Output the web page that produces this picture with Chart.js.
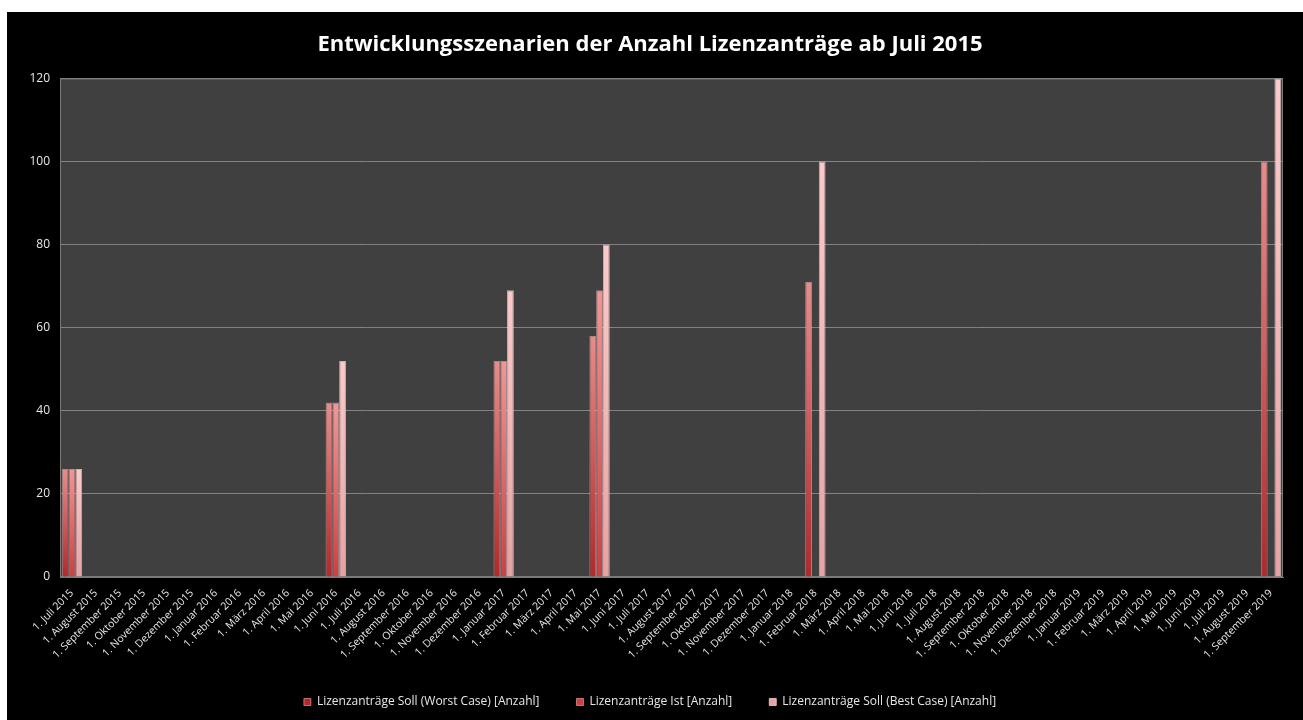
<!DOCTYPE html>
<html>
<head>
<meta charset="utf-8">
<script src="https://cdn.jsdelivr.net/npm/chart.js@4/dist/chart.umd.min.js"></script>
<style>
  html, body { margin: 0; padding: 0; background: #fff; }
  #wrap { position: absolute; left: 7px; top: 12px; width: 1296px; height: 708px; background: #000; }
</style>
</head>
<body>
<div id="wrap"><canvas id="chart" width="1296" height="708"></canvas></div>
<script>
var months = [
  '1. Juli 2015', '1. August 2015', '1. September 2015', '1. Oktober 2015', '1. November 2015', '1. Dezember 2015',
  '1. Januar 2016', '1. Februar 2016', '1. März 2016', '1. April 2016', '1. Mai 2016', '1. Juni 2016',
  '1. Juli 2016', '1. August 2016', '1. September 2016', '1. Oktober 2016', '1. November 2016', '1. Dezember 2016',
  '1. Januar 2017', '1. Februar 2017', '1. März 2017', '1. April 2017', '1. Mai 2017', '1. Juni 2017',
  '1. Juli 2017', '1. August 2017', '1. September 2017', '1. Oktober 2017', '1. November 2017', '1. Dezember 2017',
  '1. Januar 2018', '1. Februar 2018', '1. März 2018', '1. April 2018', '1. Mai 2018', '1. Juni 2018',
  '1. Juli 2018', '1. August 2018', '1. September 2018', '1. Oktober 2018', '1. November 2018', '1. Dezember 2018',
  '1. Januar 2019', '1. Februar 2019', '1. März 2019', '1. April 2019', '1. Mai 2019', '1. Juni 2019',
  '1. Juli 2019', '1. August 2019', '1. September 2019'
];

// Soll (Worst Case)
var worstCase = [
  26, null, null, null, null, null,
  null, null, null, null, null, 42,
  null, null, null, null, null, null,
  52, null, null, null, 58, null,
  null, null, null, null, null, null,
  null, 71, null, null, null, null,
  null, null, null, null, null, null,
  null, null, null, null, null, null,
  null, null, 100
];

// Ist
var ist = [
  26, null, null, null, null, null,
  null, null, null, null, null, 42,
  null, null, null, null, null, null,
  52, null, null, null, 69, null,
  null, null, null, null, null, null,
  null, null, null, null, null, null,
  null, null, null, null, null, null,
  null, null, null, null, null, null,
  null, null, null
];

// Soll (Best Case)
var bestCase = [
  26, null, null, null, null, null,
  null, null, null, null, null, 52,
  null, null, null, null, null, null,
  69, null, null, null, 80, null,
  null, null, null, null, null, null,
  null, 100, null, null, null, null,
  null, null, null, null, null, null,
  null, null, null, null, null, null,
  null, null, 120
];

var yTicks = [0, 20, 40, 60, 80, 100, 120];

// Verlauf pro Balken: unten dunkel, oben hell
function barGradient(bottomCol, topCol) {
  return function (ctx) {
    var chart = ctx.chart;
    if (!chart.chartArea || ctx.raw == null || ctx.type !== 'data') return bottomCol;
    var y = chart.scales.y;
    var g = chart.ctx.createLinearGradient(0, y.getPixelForValue(0), 0, y.getPixelForValue(ctx.raw));
    g.addColorStop(0, bottomCol);
    g.addColorStop(1, topCol);
    return g;
  };
}

var plotBg = {
  id: 'plotBg',
  beforeDraw: function (chart) {
    var a = chart.chartArea, c = chart.ctx;
    c.save();
    c.fillStyle = '#404040';
    c.fillRect(a.left, a.top, a.right - a.left, a.bottom - a.top);
    c.strokeStyle = '#7a7a7a';
    c.lineWidth = 1;
    c.strokeRect(a.left + 0.5, a.top + 0.5, a.right - a.left - 1, a.bottom - a.top - 1);
    c.restore();
  }
};

var ctx = document.getElementById('chart').getContext('2d');
var chart = new Chart(ctx, {
  type: 'bar',
  data: {
    labels: months,
    datasets: [
      {
        label: 'Lizenzanträge Soll (Worst Case) [Anzahl]',
        data: worstCase,
        backgroundColor: barGradient('#b3282b', '#e88c8c'),
        borderColor: 'rgba(255,190,190,0.55)',
        borderWidth: 1
      },
      {
        label: 'Lizenzanträge Ist [Anzahl]',
        data: ist,
        backgroundColor: barGradient('#cf3f40', '#f29696'),
        borderColor: 'rgba(255,200,200,0.55)',
        borderWidth: 1
      },
      {
        label: 'Lizenzanträge Soll (Best Case) [Anzahl]',
        data: bestCase,
        backgroundColor: barGradient('#e7a2a3', '#fbcaca'),
        borderColor: 'rgba(255,225,225,0.7)',
        borderWidth: 1
      }
    ]
  },
  options: {
    responsive: false,
    devicePixelRatio: 1,
    animation: false,
    layout: { padding: { left: 10, right: 20, top: 10, bottom: 2 } },
    datasets: { bar: { categoryPercentage: 0.85, barPercentage: 1 } },
    plugins: {
      title: {
        display: true,
        text: 'Entwicklungsszenarien der Anzahl Lizenzanträge ab Juli 2015',
        color: '#ffffff',
        font: { family: 'Open Sans', size: 22, weight: 'bold' },
        padding: { top: 10, bottom: 20 }
      },
      legend: {
        position: 'bottom',
        labels: {
          color: '#e8e8e8',
          font: { family: 'Open Sans', size: 12 },
          boxWidth: 7,
          boxHeight: 7,
          padding: 37
        }
      },
      tooltip: { enabled: false }
    },
    scales: {
      x: {
        grid: { display: false },
        border: { color: '#7a7a7a' },
        ticks: {
          color: '#e8e8e8',
          font: { family: 'Open Sans', size: 10.5 },
          autoSkip: false,
          minRotation: 45,
          maxRotation: 45,
          padding: 2
        },
        afterFit: function (s) { s.height = 82; }
      },
      y: {
        min: 0,
        max: 120,
        afterBuildTicks: function (s) { s.ticks = yTicks.map(function (v) { return { value: v }; }); },
        grid: { color: '#828282', drawTicks: false },
        border: { color: '#7a7a7a' },
        ticks: {
          color: '#e8e8e8',
          font: { family: 'Open Sans', size: 12 },
          padding: 10
        },
        afterFit: function (s) { s.width = 43; }
      }
    }
  },
  plugins: [plotBg]
});
</script>
</body>
</html>
